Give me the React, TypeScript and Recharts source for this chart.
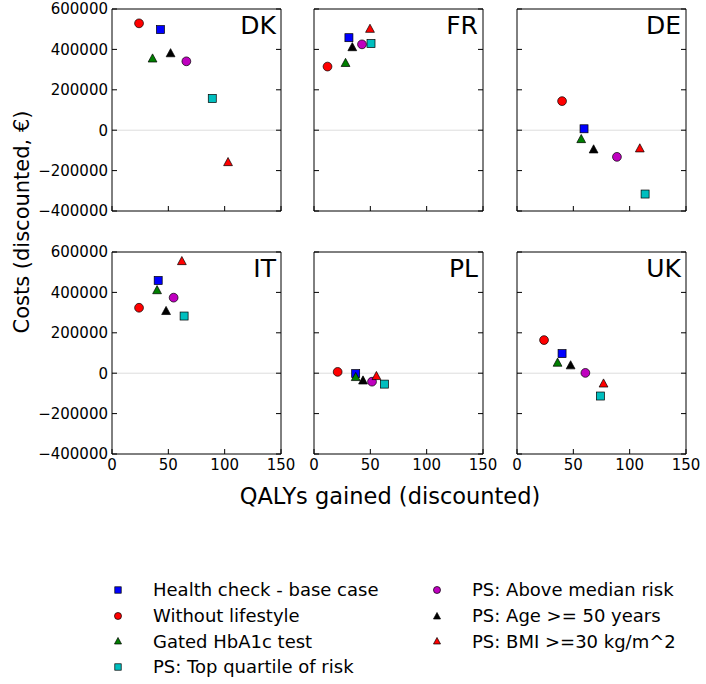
import { ScatterChart, Scatter, XAxis, YAxis, ReferenceLine } from "recharts";

const countries = ["DK", "FR", "DE", "IT", "PL", "UK"];
const xTicks = [0, 50, 100, 150];
const yTicks = [-400000, -200000, 0, 200000, 400000, 600000];

// values per country, order: DK, FR, DE, IT, PL, UK
const healthCheckQaly = [43, 31, 59.5, 41, 37, 40];
const healthCheckCost = [498000, 458000, 7000, 459000, -2000, 97000];
const noLifestyleQaly = [24, 12, 40, 24, 21, 24];
const noLifestyleCost = [529000, 315000, 144000, 324000, 6500, 164000];
const gatedQaly = [36, 28, 57, 40, 37, 36];
const gatedCost = [356000, 334000, -43000, 412000, -18000, 53000];
const topQuartileQaly = [89, 50.6, 113.7, 64, 62.5, 74];
const topQuartileCost = [157000, 429000, -316000, 283000, -54000, -113000];
const aboveMedianQaly = [66, 42.6, 88.7, 54.7, 51.5, 60.7];
const aboveMedianCost = [341000, 425000, -132000, 374000, -42000, 1500];
const age50Qaly = [52, 34, 68, 48, 43.5, 47.6];
const age50Cost = [382000, 412000, -94000, 309000, -35000, 40000];
const bmi30Qaly = [103, 49.7, 109, 62, 55.4, 76.8];
const bmi30Cost = [-157000, 503000, -89000, 556000, -13000, -50000];

const seriesNames = [
  "Health check - base case",
  "Without lifestyle",
  "Gated HbA1c test",
  "PS: Top quartile of risk",
  "PS: Above median risk",
  "PS: Age >= 50 years",
  "PS: BMI >=30 kg/m^2",
];
const seriesColors = ["#0000ff", "#ff0000", "#007f00", "#00bfbf", "#bf00bf", "#000000", "#ff0000"];
const seriesShapes = ["square", "circle", "triangle", "square", "circle", "triangle", "triangle"];
const seriesQaly = [healthCheckQaly, noLifestyleQaly, gatedQaly, topQuartileQaly, aboveMedianQaly, age50Qaly, bmi30Qaly];
const seriesCost = [healthCheckCost, noLifestyleCost, gatedCost, topQuartileCost, aboveMedianCost, age50Cost, bmi30Cost];

const FONT = "'DejaVu Sans', sans-serif";
const PLOT_W = 169;
const PLOT_H = 202;
const colX = [112, 314, 517];
const rowY = [9, 252];

function Marker({ cx, cy, kind, color, s = 1 }: any) {
  if (cx == null || cy == null) return null;
  if (kind === "square") {
    const h = 4 * s;
    return <rect x={cx - h} y={cy - h} width={2 * h} height={2 * h} fill={color} stroke="#000" strokeWidth={0.7} />;
  }
  if (kind === "circle") {
    return <circle cx={cx} cy={cy} r={4.4 * s} fill={color} stroke="#000" strokeWidth={0.7} />;
  }
  const w = 4.4 * s;
  const pts = `${cx},${cy - w} ${cx - w},${cy + w * 0.85} ${cx + w},${cy + w * 0.85}`;
  return <polygon points={pts} fill={color} stroke="#000" strokeWidth={0.7} />;
}

const fmtCost = (v: number) => (v < 0 ? "\u2212" + -v : String(v));
const noTick = () => <g />;

function Panel({ idx }: { idx: number }) {
  const col = idx % 3;
  const row = Math.floor(idx / 3);
  const showY = col === 0;
  const showX = row === 1;
  const tickStyle = { fill: "#000", fontSize: 15, fontFamily: FONT };
  const line = { stroke: "#000", strokeWidth: 1 };
  const chartW = 100 + PLOT_W + 1 + 20;
  const chartH = 10 + PLOT_H + 30;
  return (
    <div style={{ position: "absolute", left: colX[col] - 100, top: rowY[row] - 10, width: chartW, height: chartH }}>
      <ScatterChart width={chartW} height={chartH} margin={{ top: 9, right: 20, left: 0, bottom: 0 }}>
        <XAxis
          xAxisId="b"
          type="number"
          dataKey="x"
          domain={[0, 150]}
          ticks={xTicks}
          height={30}
          tickSize={-5}
          tickMargin={10}
          axisLine={line}
          tickLine={line}
          tick={showX ? tickStyle : noTick}
          allowDataOverflow
        />
        <XAxis
          xAxisId="t"
          orientation="top"
          type="number"
          domain={[0, 150]}
          ticks={xTicks}
          height={1}
          tickSize={-5}
          axisLine={line}
          tickLine={line}
          tick={noTick}
          allowDataOverflow
        />
        <YAxis
          yAxisId="l"
          type="number"
          dataKey="y"
          domain={[-400000, 600000]}
          ticks={yTicks}
          width={100}
          tickSize={-5}
          tickMargin={9}
          axisLine={line}
          tickLine={line}
          tick={showY ? tickStyle : noTick}
          tickFormatter={fmtCost}
          allowDataOverflow
        />
        <YAxis
          yAxisId="r"
          orientation="right"
          type="number"
          domain={[-400000, 600000]}
          ticks={yTicks}
          width={1}
          tickSize={-5}
          axisLine={line}
          tickLine={line}
          tick={noTick}
          allowDataOverflow
        />
        <ReferenceLine xAxisId="b" yAxisId="l" y={0} stroke="#dddddd" strokeWidth={1} />
        {seriesNames.map((name, s) => (
          <Scatter
            key={name}
            name={name}
            xAxisId="b"
            yAxisId="l"
            data={[{ x: seriesQaly[s][idx], y: seriesCost[s][idx] }]}
            isAnimationActive={false}
            shape={(p: any) => <Marker cx={p.cx} cy={p.cy} kind={seriesShapes[s]} color={seriesColors[s]} />}
          />
        ))}
      </ScatterChart>
      <div
        style={{
          position: "absolute",
          right: 26,
          top: 14,
          fontSize: 25,
          lineHeight: 1,
          fontFamily: FONT,
          color: "#000",
        }}
      >
        {countries[idx]}
      </div>
    </div>
  );
}

function LegendItem({ s }: { s: number }) {
  return (
    <div style={{ display: "flex", alignItems: "center", height: 25.7 }}>
      <svg width={20} height={20} style={{ marginRight: 25 }}>
        <Marker cx={10} cy={10} kind={seriesShapes[s]} color={seriesColors[s]} s={0.8} />
      </svg>
      <span>{seriesNames[s]}</span>
    </div>
  );
}

export default function App() {
  return (
    <div
      style={{
        position: "absolute",
        left: 0,
        top: 0,
        width: 706,
        height: 684,
        background: "#fff",
        fontFamily: FONT,
        color: "#000",
        overflow: "hidden",
      }}
    >
      {countries.map((c, i) => (
        <Panel key={c} idx={i} />
      ))}
      <div
        style={{
          position: "absolute",
          left: 22,
          top: 222,
          transform: "translate(-50%, -50%) rotate(-90deg)",
          fontSize: 21,
          whiteSpace: "nowrap",
        }}
      >
        Costs (discounted, €)
      </div>
      <div
        style={{
          position: "absolute",
          left: 390,
          top: 496,
          transform: "translate(-50%, -50%)",
          fontSize: 22.5,
          whiteSpace: "nowrap",
        }}
      >
        QALYs gained (discounted)
      </div>
      <div style={{ position: "absolute", left: 108, top: 577, fontSize: 18 }}>
        {[0, 1, 2, 3].map((s) => (
          <LegendItem key={s} s={s} />
        ))}
      </div>
      <div style={{ position: "absolute", left: 427, top: 577, fontSize: 18 }}>
        {[4, 5, 6].map((s) => (
          <LegendItem key={s} s={s} />
        ))}
      </div>
    </div>
  );
}
